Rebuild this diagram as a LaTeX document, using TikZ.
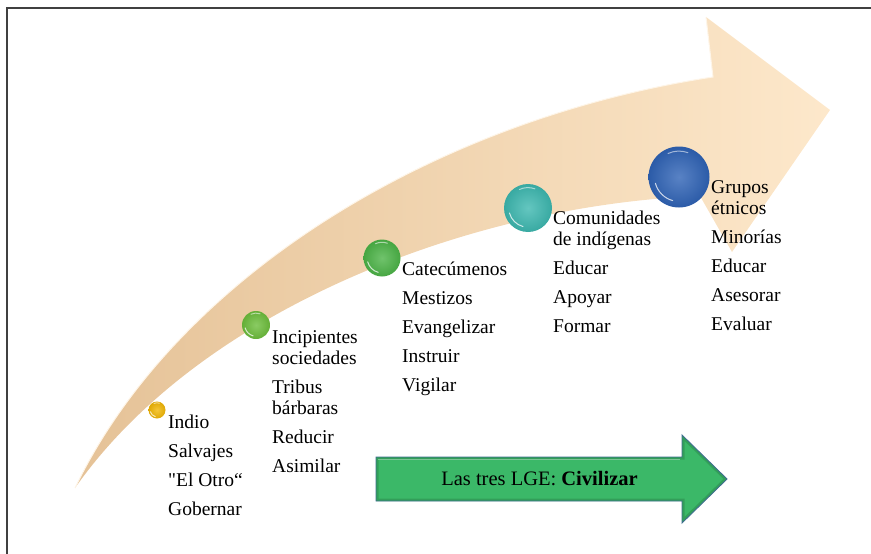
\documentclass[tikz,border=0pt]{standalone}
\usepackage{fontspec}
\newfontfamily\serifx[Ligatures=Common]{Liberation Serif}
\definecolor{tailc}{HTML}{E5C297}
\definecolor{midc}{HTML}{FAE2C2}
\definecolor{headc}{HTML}{FDE8CB}
\definecolor{lgegreen}{HTML}{3BB868}
\definecolor{lgeedge}{HTML}{3F6E8F}
\definecolor{cyellow}{HTML}{F2B705}
\definecolor{cgreenA}{HTML}{6DBE3C}
\definecolor{cgreenB}{HTML}{4CB447}
\definecolor{cteal}{HTML}{3DB8B0}
\definecolor{cblue}{HTML}{2F63B6}
\definecolor{framec}{HTML}{404040}
\tikzset{
  lbl/.style={anchor=base west, inner sep=0pt, font=\serifx\fontsize{19.5}{21}\selectfont},
  ballnode/.style={circle, inner sep=0pt, minimum size=#1},
  gloss/.style={white, opacity=.75, line width=1pt, line cap=round},
  framel/.style={framec, line width=1.2pt},
}
\newcommand\gball[5]{%
  \node[ballnode={#4*2pt}, inner color=#5!80!white, outer color=#5!92!black] (#1) at (#2,#3) {};
  \draw[gloss] (#1.center) ++(195:#4*0.8pt) arc[start angle=195, end angle=255, radius=#4*0.8pt];
  \draw[gloss, opacity=.55] (#1.center) ++(70:#4*0.85pt) arc[start angle=70, end angle=115, radius=#4*0.85pt];
}
\begin{document}
\begin{tikzpicture}[x=1pt, y=-1pt]
\useasboundingbox (0,0) rectangle (871,554);
% frame
\draw[framel] (7,554) -- (7,8) -- (871,8);
% big curved arrow
\shade[left color=tailc, middle color=midc, right color=headc]
  (75,488) .. controls (175,280) and (430,120) .. (713,77)
  -- (706,17) -- (830,110) -- (732,252) -- (700,196)
  .. controls (470,205) and (200,310) .. (75,488) -- cycle;
\draw[white!55!headc, line width=1pt]
  (75,488) .. controls (175,280) and (430,120) .. (713,77) -- (706,17);
% balls
\gball{b1}{157}{410}{8.5}{cyellow}
\gball{b2}{256}{325}{14}{cgreenA}
\gball{b3}{382}{258}{18.5}{cgreenB}
\gball{b4}{528}{208}{24}{cteal}
\gball{b5}{679}{177}{30.5}{cblue}
% texts
\node[lbl] (t1) at (168,428) {\begin{tabular}[t]{@{}l@{}}Indio\\[8pt] Salvajes\\[8pt] "El Otro“\\[8pt] Gobernar\end{tabular}};
\node[lbl] (t2) at (272,343) {\begin{tabular}[t]{@{}l@{}}Incipientes\\ sociedades\\[8pt] Tribus\\ bárbaras\\[8pt] Reducir\\[8pt] Asimilar\end{tabular}};
\node[lbl] (t3) at (402,275) {\begin{tabular}[t]{@{}l@{}}Catecúmenos\\[8pt] Mestizos\\[8pt] Evangelizar\\[8pt] Instruir\\[8pt] Vigilar\end{tabular}};
\node[lbl] (t4) at (553,224) {\begin{tabular}[t]{@{}l@{}}Comunidades\\ de indígenas\\[8pt] Educar\\[8pt] Apoyar\\[8pt] Formar\end{tabular}};
\node[lbl] (t5) at (711,193) {\begin{tabular}[t]{@{}l@{}}Grupos\\ étnicos\\[8pt] Minorías\\[8pt] Educar\\[8pt] Asesorar\\[8pt] Evaluar\end{tabular}};
% green arrow with slight bevel
\fill[lgegreen]
  (376,457) -- (682,457) -- (682,435) -- (727,479) -- (682,523) -- (682,501) -- (376,501) -- cycle;
\begin{scope}
  \clip (376,457) -- (682,457) -- (682,435) -- (727,479) -- (682,523) -- (682,501) -- (376,501) -- cycle;
  \draw[lgegreen!60!black, opacity=.35, line width=5pt, line join=miter]
    (376,457) -- (682,457) -- (682,435) -- (727,479) -- (682,523) -- (682,501) -- (376,501) -- cycle;
  \draw[white, opacity=.35, line width=1.2pt] (378,459.5) -- (680,459.5);
\end{scope}
\draw[draw=lgeedge, line width=0.9pt, line join=miter]
  (376,457) -- (682,457) -- (682,435) -- (727,479) -- (682,523) -- (682,501) -- (376,501) -- cycle;
\node[inner sep=0pt, font=\serifx\fontsize{20.5}{22}\selectfont] (lge) at (539.5,479) {Las tres LGE: \textbf{Civilizar}};
\end{tikzpicture}
\end{document}
